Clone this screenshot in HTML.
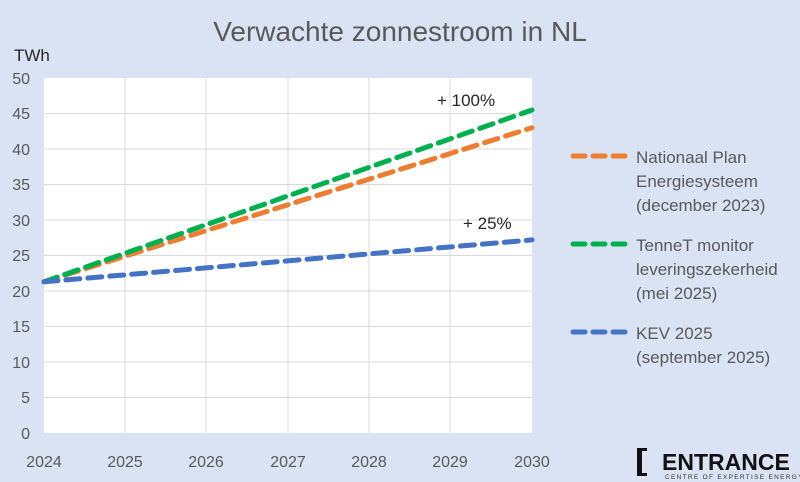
<!DOCTYPE html>
<html><head><meta charset="utf-8"><style>
html,body{margin:0;padding:0;background:#dae3f3;}
svg{display:block;font-family:"Liberation Sans",sans-serif;}
</style></head><body>
<svg width="800" height="482" viewBox="0 0 800 482">
<rect width="800" height="482" fill="#dae3f3"/>
<text x="400" y="41" font-size="28" fill="#595959" text-anchor="middle">Verwachte zonnestroom in NL</text>
<text x="14" y="61" font-size="17" fill="#262626">TWh</text>
<rect x="44" y="78" width="488" height="355" fill="#fff"/>
<g stroke="#d9d9d9" stroke-width="1">
<line x1="44" y1="113.5" x2="532" y2="113.5"/><line x1="44" y1="149" x2="532" y2="149"/>
<line x1="44" y1="184.5" x2="532" y2="184.5"/><line x1="44" y1="220" x2="532" y2="220"/>
<line x1="44" y1="255.5" x2="532" y2="255.5"/><line x1="44" y1="291" x2="532" y2="291"/>
<line x1="44" y1="326.5" x2="532" y2="326.5"/><line x1="44" y1="362" x2="532" y2="362"/>
<line x1="44" y1="397.5" x2="532" y2="397.5"/>
<line x1="125" y1="78" x2="125" y2="433"/><line x1="206" y1="78" x2="206" y2="433"/>
<line x1="288" y1="78" x2="288" y2="433"/><line x1="369" y1="78" x2="369" y2="433"/>
<line x1="450" y1="78" x2="450" y2="433"/>
</g>
<g font-size="16" fill="#595959" text-anchor="end">
<text x="30" y="84">50</text><text x="30" y="119">45</text><text x="30" y="155">40</text>
<text x="30" y="190">35</text><text x="30" y="226">30</text><text x="30" y="261">25</text>
<text x="30" y="297">20</text><text x="30" y="332">15</text><text x="30" y="368">10</text>
<text x="30" y="403">5</text><text x="30" y="439">0</text>
</g>
<g font-size="16" fill="#595959" text-anchor="middle">
<text x="44" y="467">2024</text><text x="125" y="467">2025</text><text x="206" y="467">2026</text>
<text x="288" y="467">2027</text><text x="369" y="467">2028</text><text x="450" y="467">2029</text>
<text x="532" y="467">2030</text>
</g>
<g fill="none" stroke-width="5" stroke-linecap="round" stroke-dasharray="14 8">
<line x1="44" y1="281.8" x2="532" y2="127.7" stroke="#ed7d31"/>
<line x1="44" y1="281.8" x2="532" y2="110" stroke="#00b050"/>
<line x1="44" y1="281.8" x2="532" y2="239.9" stroke="#4472c4"/>
</g>
<text x="437" y="106" font-size="17" fill="#262626">+ 100%</text>
<text x="463" y="229" font-size="17" fill="#262626">+ 25%</text>
<g stroke-width="5" stroke-linecap="round" stroke-dasharray="12 8">
<line x1="573" y1="156" x2="632" y2="156" stroke="#ed7d31"/>
<line x1="573" y1="244" x2="632" y2="244" stroke="#00b050"/>
<line x1="573" y1="332" x2="632" y2="332" stroke="#4472c4"/>
</g>
<g font-size="17" fill="#595959">
<text x="636" y="163">Nationaal Plan</text><text x="636" y="187">Energiesysteem</text><text x="636" y="211">(december 2023)</text>
<text x="636" y="251">TenneT monitor</text><text x="636" y="275">leveringszekerheid</text><text x="636" y="299">(mei 2025)</text>
<text x="636" y="339">KEV 2025</text><text x="636" y="363">(september 2025)</text>
</g>
<path d="M637 448 h10 v3 h-5 v22 h5 v3 h-10 z" fill="#111"/>
<text x="662" y="470" font-size="23" font-weight="bold" fill="#111">ENTRANCE</text>
<text x="665" y="479" font-size="6.5" fill="#333" letter-spacing="1.3">CENTRE OF EXPERTISE ENERGY</text>
</svg>
</body></html>
